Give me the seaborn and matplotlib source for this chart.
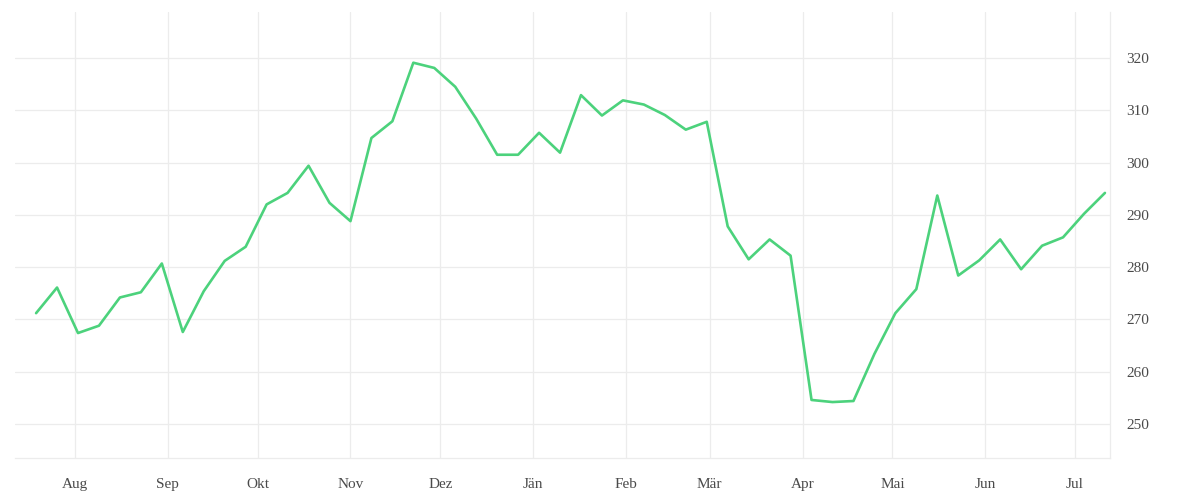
import matplotlib
matplotlib.use("Agg")
import matplotlib.pyplot as plt
import seaborn as sns
import pandas as pd

start_date = "2022-07-19"
n_weeks = 52
values = [271.2, 276.1, 267.4, 268.8, 274.2, 275.2, 280.7, 267.6, 275.4, 281.2,
          283.9, 292.0, 294.2, 299.4, 292.3, 288.8, 304.7, 307.9, 319.1, 318.1,
          314.5, 308.4, 301.5, 301.5, 305.7, 301.9, 312.9, 309.0, 311.9, 311.1,
          309.1, 306.3, 307.8, 287.8, 281.5, 285.3, 282.2, 254.6, 254.2, 254.4,
          263.4, 271.2, 275.8, 293.7, 278.4, 281.3, 285.3, 279.6, 284.1, 285.7,
          290.2, 294.2]
month_labels = ["Aug", "Sep", "Okt", "Nov", "Dez", "Jän", "Feb", "Mär", "Apr", "Mai", "Jun", "Jul"]
y_ticks = [250, 260, 270, 280, 290, 300, 310, 320]

dates = pd.date_range(start_date, periods=n_weeks, freq="7D")
df = pd.DataFrame({"date": dates, "value": values})

sns.set_theme(style="white")
plt.rcParams['font.family'] = ['Liberation Serif', 'DejaVu Serif']

grid_c = "#ececec"
text_c = "#4a4a4a"

fig = plt.figure(figsize=(12, 5), dpi=100)
ax = fig.add_axes([15/1200, 1 - 458/500, (1110-15)/1200, (458-12)/500])

sns.lineplot(data=df, x="date", y="value", ax=ax, color="#4cd27c", linewidth=1.9)

ax.set_xlim(pd.Timestamp("2022-07-11 23:00"), pd.Timestamp("2023-07-12 16:30"))
ax.set_ylim(243.5, 328.8)

month_ticks = pd.date_range("2022-08-01", periods=12, freq="MS")
ax.set_xticks(month_ticks)
ax.set_xticklabels(month_labels)
ax.set_yticks(y_ticks)
ax.set_yticklabels([str(v) for v in y_ticks])

ax.yaxis.tick_right()
ax.yaxis.set_label_position("right")
ax.set_xlabel("")
ax.set_ylabel("")

ax.grid(True, color=grid_c, linewidth=0.9)
ax.set_axisbelow(True)

for s in ["top", "left"]:
    ax.spines[s].set_visible(False)
for s in ["bottom", "right"]:
    ax.spines[s].set_visible(True)
    ax.spines[s].set_color(grid_c)
    ax.spines[s].set_linewidth(0.9)

ax.tick_params(axis="x", direction="out", length=7.5, width=0.9, color=grid_c,
               labelcolor=text_c, labelsize=11, pad=7)
ax.tick_params(axis="y", length=0, labelcolor=text_c, labelsize=11, pad=12)

fig.savefig("out.png", dpi=100, facecolor="white")
